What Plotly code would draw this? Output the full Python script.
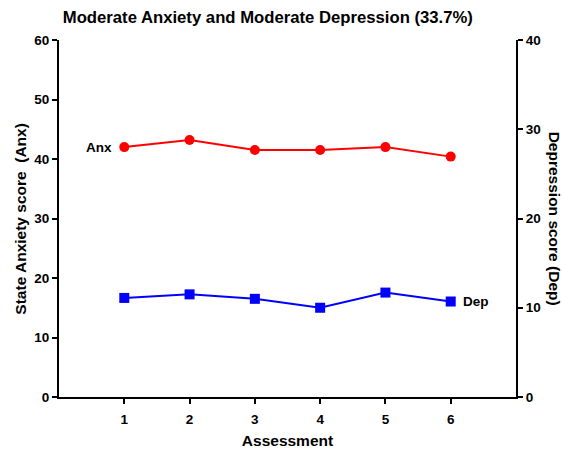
import plotly.graph_objects as go

assessment = [1, 2, 3, 4, 5, 6]
anx = [42.0, 43.2, 41.5, 41.5, 42.0, 40.4]
dep = [11.1, 11.5, 11.0, 10.0, 11.7, 10.7]
left_ticks = [0, 10, 20, 30, 40, 50, 60]
right_ticks = [0, 10, 20, 30, 40]

FONT = "Liberation Sans, Arial, sans-serif"

fig = go.Figure()
fig.add_trace(go.Scatter(x=assessment, y=anx, mode="lines+markers", name="Anx",
                         line=dict(color="#ff0000", width=2),
                         marker=dict(symbol="circle", size=10, color="#ff0000"),
                         yaxis="y"))
fig.add_trace(go.Scatter(x=assessment, y=dep, mode="lines+markers", name="Dep",
                         line=dict(color="#0000ff", width=2),
                         marker=dict(symbol="square", size=10, color="#0000ff"),
                         yaxis="y2"))

axis_common = dict(showline=True, linecolor="black", linewidth=2, ticks="outside",
                   ticklen=5, tickwidth=2, tickcolor="black", showgrid=False,
                   zeroline=False, automargin=False,
                   tickfont=dict(family=FONT, size=13.5, color="black", weight="bold"))

fig.update_layout(
    width=562, height=450,
    margin=dict(l=59, r=46, t=40, b=53, autoexpand=False),
    plot_bgcolor="white", paper_bgcolor="white",
    showlegend=False,
    title=dict(text="Moderate Anxiety and Moderate Depression (33.7%)",
               x=0.457, xref="paper", xanchor="center", y=0.962, yanchor="middle",
               font=dict(family=FONT, size=16.7, color="black", weight="bold")),
    xaxis=dict(range=[0, 7], tickvals=assessment, ticklabelstandoff=4,
               title=dict(text="Assessment", standoff=9,
                          font=dict(family=FONT, size=15.5, color="black", weight="bold")),
               **axis_common),
    yaxis=dict(range=[0, 60], tickvals=left_ticks, **axis_common),
    yaxis2=dict(range=[0, 40], tickvals=right_ticks, overlaying="y", side="right",
                **axis_common),
)

fig.add_annotation(text="State Anxiety score  (Anx)", xref="paper", yref="paper",
                   x=-0.085, y=0.5, xanchor="center", yanchor="middle", textangle=-90,
                   showarrow=False,
                   font=dict(family=FONT, size=15.5, color="black", weight="bold"))
fig.add_annotation(text="Depression score (Dep)", xref="paper", yref="paper",
                   x=1.085, y=0.5, xanchor="center", yanchor="middle", textangle=90,
                   showarrow=False,
                   font=dict(family=FONT, size=15.5, color="black", weight="bold"))
fig.add_annotation(text="Anx", x=assessment[0], y=anx[0], xref="x", yref="y",
                   xanchor="right", yanchor="middle", xshift=-10, showarrow=False,
                   font=dict(family=FONT, size=13.5, color="black", weight="bold"))
fig.add_annotation(text="Dep", x=assessment[-1], y=dep[-1], xref="x", yref="y2",
                   xanchor="left", yanchor="middle", xshift=10, showarrow=False,
                   font=dict(family=FONT, size=13.5, color="black", weight="bold"))

fig.write_html("out.html", config={"displayModeBar": False},
               post_script="document.body.style.margin='0';document.body.style.padding='0';")
